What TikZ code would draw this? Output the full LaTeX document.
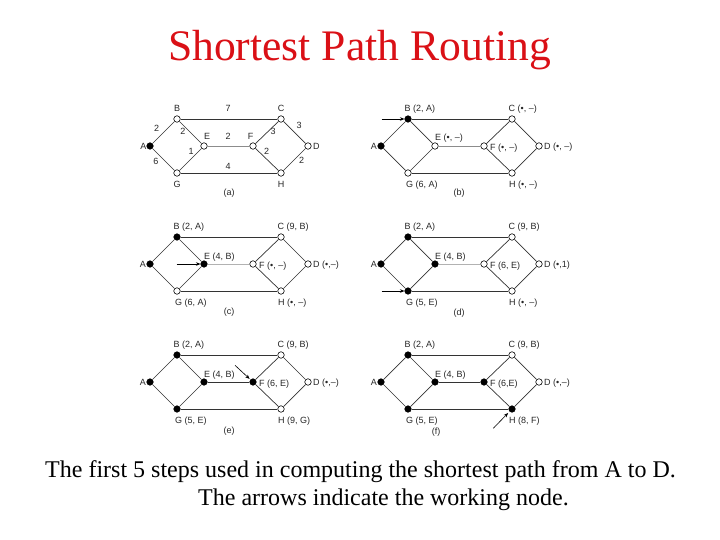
\documentclass[tikz,border=0pt]{standalone}
\usepackage{fontspec}
\setmainfont{Liberation Serif}
\newfontfamily\labfont{Liberation Sans}
\usetikzlibrary{arrows.meta}
\definecolor{titlered}{RGB}{218,16,22}
\tikzset{
  vtx/.style={circle, draw=black, line width=0.6pt, inner sep=0pt, minimum size=6.5pt},
  on/.style={vtx, fill=black},
  off/.style={vtx, fill=white},
  edge/.style={draw=black!80, line width=0.7pt},
  lab/.style={font=\labfont\fontsize{9}{10}\selectfont, inner sep=0pt, text=black!85},
  work/.style={-{Stealth[length=4.5pt,width=3.5pt]}, line width=0.6pt},
}
\newcommand{\netnodes}[9]{%
  \node[#2] (#1A) at (150,146) {};
  \node[#3] (#1B) at (177,119) {};
  \node[#4] (#1C) at (281,119) {};
  \node[#5] (#1D) at (308,146) {};
  \node[#6] (#1E) at (204,146) {};
  \node[#7] (#1F) at (253,146) {};
  \node[#8] (#1G) at (177,173) {};
  \node[#9] (#1H) at (281,173) {};
}
\newcommand{\netedges}[2]{%
  \draw[edge] (#1A) -- (#1B);
  \draw[edge] (#1A) -- (#1G);
  \draw[edge] (#1B) -- (#1C);
  \draw[edge] (#1B) -- (#1E);
  \draw[edge] (#1G) -- (#1E);
  \draw[edge] (#1G) -- (#1H);
  \draw[edge] (#1C) -- (#1F);
  \draw[edge] (#1C) -- (#1D);
  \draw[edge] (#1F) -- (#1H);
  \draw[edge] (#1D) -- (#1H);
  \draw[edge, draw=#2] (#1E) -- (#1F);
}
\newcommand{\netlabels}[8]{%
  \node[lab, anchor=base east] (#1Al) at ([xshift=-4pt,yshift=-3.5pt]#1A.center) {A};
  \node[lab, anchor=base west] (#1Bl) at ([xshift=-3.5pt,yshift=7.5pt]#1B.center) {#2};
  \node[lab, anchor=base west] (#1Cl) at ([xshift=-3.5pt,yshift=7.5pt]#1C.center) {#3};
  \node[lab, anchor=base west] (#1Dl) at ([xshift=5pt,yshift=-3.5pt]#1D.center) {#4};
  \node[lab, anchor=base west] (#1El) at ([xshift=0pt,yshift=5pt]#1E.center) {#5};
  \node[lab, anchor=base west] (#1Fl) at ([xshift=6pt,yshift=-4.3pt]#1F.center) {#6};
  \node[lab, anchor=base west] (#1Gl) at ([xshift=-2pt,yshift=-14.5pt]#1G.center) {#7};
  \node[lab, anchor=base west] (#1Hl) at ([xshift=-3pt,yshift=-14.5pt]#1H.center) {#8};
}
\begin{document}
\begin{tikzpicture}[x=1pt,y=-1pt]
\useasboundingbox (0,0) rectangle (720,540);

% title
\node[font=\fontsize{43.6}{48}\selectfont, text=titlered, inner sep=0pt, anchor=base] (title) at (359.5,61) {Shortest Path Routing};

% (a)
\begin{scope}
  \netnodes{a}{on}{off}{off}{off}{off}{off}{off}{off}
  \netedges{a}{black!45}
  \node[lab, anchor=base east] (aAl) at ([xshift=-3.5pt,yshift=-3.5pt]aA.center) {A};
  \node[lab, anchor=base] (aBl) at ([yshift=7.5pt]aB.center) {B};
  \node[lab, anchor=base] (aCl) at ([yshift=7.5pt]aC.center) {C};
  \node[lab, anchor=base] (aEl) at ([xshift=3pt,yshift=6pt]aE.center) {E};
  \node[lab, anchor=base] (aFl) at ([xshift=-2.5pt,yshift=6pt]aF.center) {F};
  \node[lab, anchor=base west] (aDl) at ([xshift=5pt,yshift=-3.5pt]aD.center) {D};
  \node[lab, anchor=base] (aGl) at ([yshift=-14.5pt]aG.center) {G};
  \node[lab, anchor=base] (aHl) at ([yshift=-14.5pt]aH.center) {H};
  \node[lab] (wBC) at (228,108) {7};
  \node[lab] (wAB) at (156.7,128) {2};
  \node[lab] (wBE) at (183,131.7) {2};
  \node[lab] (wEF) at (228,136.7) {2};
  \node[lab] (wCF) at (273,131.7) {3};
  \node[lab] (wCD) at (299,125.7) {3};
  \node[lab] (wFH) at (266.7,151.7) {2};
  \node[lab] (wDH) at (301.7,160) {2};
  \node[lab] (wAG) at (156,161.7) {6};
  \node[lab] (wEG) at (191,151.7) {1};
  \node[lab] (wGH) at (228,166) {4};
  \node[lab] (capa) at (229,193) {(a)};
\end{scope}

% (b)
\begin{scope}[shift={(231,0)}]
  \netnodes{b}{on}{on}{off}{off}{off}{off}{off}{off}
  \netedges{b}{black!45}
  \netlabels{b}{B (2, A)}{C (\textbullet, –)}{D (\textbullet, –)}{E (\textbullet, –)}{F (\textbullet, –)}{G (6, A)}{H (\textbullet, –)}
  \node[lab] (capb) at (228,193) {(b)};
  \coordinate (bw) at (150.7,119);
  \draw[work] (bw) -- (bB.west);
\end{scope}

% (c)
\begin{scope}[shift={(0,118)}]
  \netnodes{c}{on}{on}{off}{off}{on}{off}{off}{off}
  \netedges{c}{black!30}
  \netlabels{c}{B (2, A)}{C (9, B)}{D (\textbullet,–)}{E (4, B)}{F (\textbullet, –)}{G (6, A)}{H (\textbullet, –)}
  \node[lab] (capc) at (229,194) {(c)};
  \coordinate (cw) at (176.7,146);
  \draw[work] (cw) -- (cE.west);
\end{scope}

% (d)
\begin{scope}[shift={(231,118)}]
  \netnodes{d}{on}{on}{off}{off}{on}{off}{on}{off}
  \netedges{d}{black!30}
  \netlabels{d}{B (2, A)}{C (9, B)}{D (\textbullet,1)}{E (4, B)}{F (6, E)}{G (5, E)}{H (\textbullet, –)}
  \node[lab] (capd) at (228,195) {(d)};
  \coordinate (dw) at (150.7,173);
  \draw[work] (dw) -- (dG.west);
\end{scope}

% (e)
\begin{scope}[shift={(0,236)}]
  \netnodes{e}{on}{on}{off}{off}{on}{on}{on}{off}
  \netedges{e}{black!80}
  \netlabels{e}{B (2, A)}{C (9, B)}{D (\textbullet,–)}{E (4, B)}{F (6, E)}{G (5, E)}{H (9, G)}
  \node[lab] (cape) at (229,195) {(e)};
  \coordinate (ew) at (235,129.3);
  \draw[work, shorten >=1pt] (ew) -- (eF);
\end{scope}

% (f)
\begin{scope}[shift={(231,236)}]
  \netnodes{f}{on}{on}{off}{off}{on}{on}{on}{on}
  \netedges{f}{black!80}
  \netlabels{f}{B (2, A)}{C (9, B)}{D (\textbullet,–)}{E (4, B)}{F (6,E)}{G (5, E)}{H (8, F)}
  \node[lab] (capf) at (205,196) {(f)};
  \coordinate (fw) at (262.3,192.3);
  \draw[work, shorten >=2pt] (fw) -- (fH);
\end{scope}

% caption
\node[font=\fontsize{24}{28}\selectfont, inner sep=0pt, anchor=base] (cap1) at (360.5,477) {The first 5 steps used in computing the shortest path from A to D.};
\node[font=\fontsize{24}{28}\selectfont, inner sep=0pt, anchor=base] (cap2) at (383.5,505) {The arrows indicate the working node.};
\end{tikzpicture}
\end{document}
